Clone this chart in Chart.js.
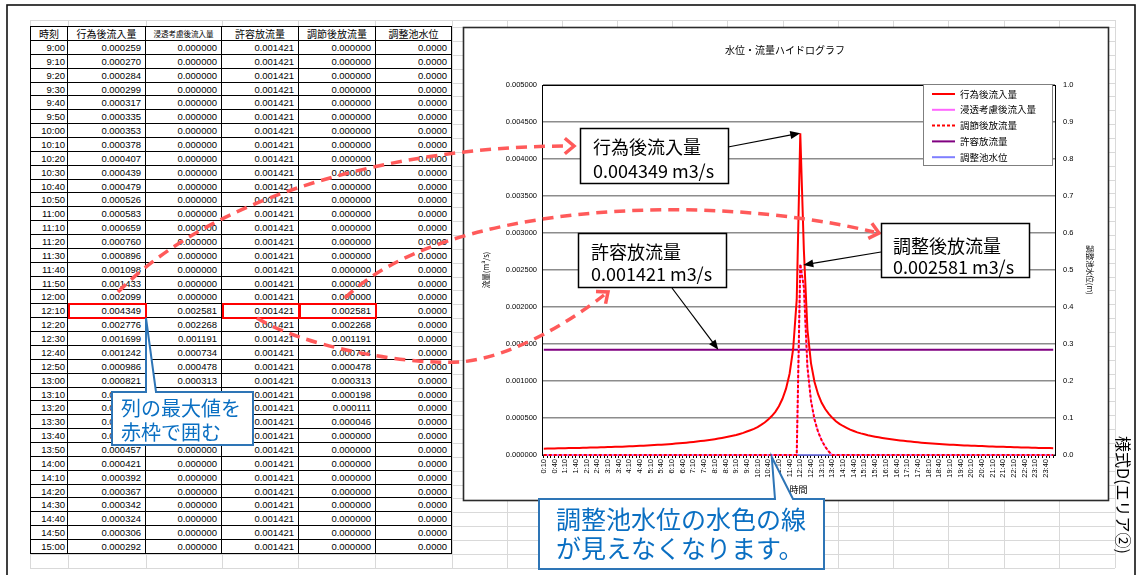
<!DOCTYPE html>
<html><head><meta charset="utf-8">
<script src="https://cdn.jsdelivr.net/npm/chart.js@4.4.1/dist/chart.umd.min.js"></script>
<style>
html,body{margin:0;padding:0;background:#fff;width:1144px;height:575px;overflow:hidden;position:relative;}
#bg{position:absolute;left:0;top:0;z-index:0}
#tbl{position:absolute;left:0;top:0;z-index:1;}
.c{position:absolute;box-sizing:border-box;border-right:1px solid #000;border-bottom:1px solid #000;text-align:right;padding-right:4px;font-family:'Liberation Sans','DejaVu Sans',sans-serif;font-size:9.5px;color:#000;white-space:nowrap;overflow:hidden;background:#fff}
.h{text-align:center;padding:0;font-family:'Noto Sans CJK JP',sans-serif;font-size:10px}
#cv{position:absolute;left:0;top:0;z-index:2}
.ann{position:absolute;z-index:3;white-space:nowrap;font-family:'Noto Sans CJK JP',sans-serif;color:#000}
.blue{color:#0a6fc2}
#side{position:absolute;z-index:3;left:1112px;top:436px;writing-mode:vertical-rl;text-orientation:sideways;font-family:'Noto Sans CJK JP',sans-serif;font-size:16px;color:#000;white-space:nowrap}
</style></head><body>
<svg id="bg" width="1144" height="575"></svg>
<div id="tbl"></div>
<canvas id="cv" width="1144" height="575"></canvas>
<div class="ann" id="t1a" style="left:593px;top:135px;font-size:18px;line-height:22px"></div>
<div class="ann" id="t1b" style="left:593px;top:159px;font-size:18px;line-height:22px"></div>
<div class="ann" id="t2a" style="left:591px;top:240px;font-size:18px;line-height:22px"></div>
<div class="ann" id="t2b" style="left:591px;top:262px;font-size:18px;line-height:22px"></div>
<div class="ann" id="t3a" style="left:893px;top:234px;font-size:18px;line-height:22px"></div>
<div class="ann" id="t3b" style="left:893px;top:255px;font-size:18px;line-height:22px"></div>
<div class="ann blue" style="left:121px;top:396px;font-size:20px;line-height:24px">列の最大値を<br>赤枠で囲む</div>
<div class="ann blue" style="left:556px;top:504px;font-size:25px;line-height:29px">調整池水位の水色の線<br>が見えなくなります。</div>
<div id="side">様式D(エリア②)</div>
<script>
// ---------- data ----------
const chartTitle = '水位・流量ハイドログラフ';
const seriesNames = ['行為後流入量','浸透考慮後流入量','調節後放流量','許容放流量','調整池水位'];
const tableHeaders = ['時刻','行為後流入量','浸透考慮後流入量','許容放流量','調節後放流量','調整池水位'];

// categories 0:10 ... 24:00 (10-minute steps)
const timeLabels = [];
for (let i = 0; i < 144; i++) { const t = (i + 1) * 10; timeLabels.push(Math.floor(t / 60) + ':' + String(t % 60).padStart(2, '0')); }

const inflow = [ // 行為後流入量 (m3/s)
 0.000086,0.000087,0.000088,0.000089,0.000090,0.000091,0.000092,0.000093,0.000094,0.000095,0.000096,0.000097,
 0.000098,0.000100,0.000101,0.000102,0.000104,0.000105,0.000107,0.000108,0.000110,0.000112,0.000113,0.000115,
 0.000117,0.000119,0.000121,0.000124,0.000126,0.000128,0.000131,0.000134,0.000137,0.000140,0.000143,0.000146,
 0.000150,0.000154,0.000158,0.000162,0.000167,0.000172,0.000177,0.000182,0.000188,0.000194,0.000200,0.000207,
 0.000214,0.000222,0.000230,0.000239,0.000249,0.000259,0.000270,0.000284,0.000299,0.000317,0.000335,0.000353,
 0.000378,0.000407,0.000439,0.000479,0.000526,0.000583,0.000659,0.000760,0.000896,0.001098,0.001433,0.002099,
 0.004349,0.002776,0.001699,0.001242,0.000986,0.000821,0.000705,0.000621,0.000555,0.000502,0.000457,0.000421,
 0.000392,0.000367,0.000342,0.000324,0.000306,0.000292,0.000280,0.000268,0.000258,0.000248,0.000239,0.000231,
 0.000223,0.000216,0.000209,0.000203,0.000197,0.000191,0.000186,0.000181,0.000176,0.000172,0.000167,0.000163,
 0.000160,0.000156,0.000153,0.000149,0.000146,0.000143,0.000140,0.000138,0.000135,0.000133,0.000130,0.000128,
 0.000126,0.000124,0.000122,0.000120,0.000118,0.000116,0.000114,0.000113,0.000111,0.000110,0.000108,0.000107,
 0.000105,0.000104,0.000102,0.000101,0.000100,0.000099,0.000097,0.000096,0.000095,0.000094,0.000093,0.000092
];
const infiltration = [ // 浸透考慮後流入量
 0,0,0,0,0,0,0,0,0,0,0,0, 0,0,0,0,0,0,0,0,0,0,0,0, 0,0,0,0,0,0,0,0,0,0,0,0,
 0,0,0,0,0,0,0,0,0,0,0,0, 0,0,0,0,0,0,0,0,0,0,0,0, 0,0,0,0,0,0,0,0,0,0,0,0,
 0.002581,0.002268,0.001191,0.000734,0.000478,0.000313,0.000198,0.000111,0.000046,
 0,0,0, 0,0,0,0,0,0,0,0,0,0,0,0, 0,0,0,0,0,0,0,0,0,0,0,0, 0,0,0,0,0,0,0,0,0,0,0,0,
 0,0,0,0,0,0,0,0,0,0,0,0, 0,0,0,0,0,0,0,0,0,0,0,0
];
const releaseAfter = [ // 調節後放流量
 0,0,0,0,0,0,0,0,0,0,0,0, 0,0,0,0,0,0,0,0,0,0,0,0, 0,0,0,0,0,0,0,0,0,0,0,0,
 0,0,0,0,0,0,0,0,0,0,0,0, 0,0,0,0,0,0,0,0,0,0,0,0, 0,0,0,0,0,0,0,0,0,0,0,0,
 0.002581,0.002268,0.001191,0.000734,0.000478,0.000313,0.000198,0.000111,0.000046,
 0,0,0, 0,0,0,0,0,0,0,0,0,0,0,0, 0,0,0,0,0,0,0,0,0,0,0,0, 0,0,0,0,0,0,0,0,0,0,0,0,
 0,0,0,0,0,0,0,0,0,0,0,0, 0,0,0,0,0,0,0,0,0,0,0,0
];
const allowedRelease = [ // 許容放流量
 0.001421,0.001421,0.001421,0.001421,0.001421,0.001421,0.001421,0.001421,0.001421,0.001421,0.001421,0.001421,
 0.001421,0.001421,0.001421,0.001421,0.001421,0.001421,0.001421,0.001421,0.001421,0.001421,0.001421,0.001421,
 0.001421,0.001421,0.001421,0.001421,0.001421,0.001421,0.001421,0.001421,0.001421,0.001421,0.001421,0.001421,
 0.001421,0.001421,0.001421,0.001421,0.001421,0.001421,0.001421,0.001421,0.001421,0.001421,0.001421,0.001421,
 0.001421,0.001421,0.001421,0.001421,0.001421,0.001421,0.001421,0.001421,0.001421,0.001421,0.001421,0.001421,
 0.001421,0.001421,0.001421,0.001421,0.001421,0.001421,0.001421,0.001421,0.001421,0.001421,0.001421,0.001421,
 0.001421,0.001421,0.001421,0.001421,0.001421,0.001421,0.001421,0.001421,0.001421,0.001421,0.001421,0.001421,
 0.001421,0.001421,0.001421,0.001421,0.001421,0.001421,0.001421,0.001421,0.001421,0.001421,0.001421,0.001421,
 0.001421,0.001421,0.001421,0.001421,0.001421,0.001421,0.001421,0.001421,0.001421,0.001421,0.001421,0.001421,
 0.001421,0.001421,0.001421,0.001421,0.001421,0.001421,0.001421,0.001421,0.001421,0.001421,0.001421,0.001421,
 0.001421,0.001421,0.001421,0.001421,0.001421,0.001421,0.001421,0.001421,0.001421,0.001421,0.001421,0.001421,
 0.001421,0.001421,0.001421,0.001421,0.001421,0.001421,0.001421,0.001421,0.001421,0.001421,0.001421,0.001421
];
const waterLevel = [ // 調整池水位 (m)
 0,0,0,0,0,0,0,0,0,0,0,0, 0,0,0,0,0,0,0,0,0,0,0,0, 0,0,0,0,0,0,0,0,0,0,0,0,
 0,0,0,0,0,0,0,0,0,0,0,0, 0,0,0,0,0,0,0,0,0,0,0,0, 0,0,0,0,0,0,0,0,0,0,0,0,
 0,0,0,0,0,0,0,0,0,0,0,0, 0,0,0,0,0,0,0,0,0,0,0,0, 0,0,0,0,0,0,0,0,0,0,0,0,
 0,0,0,0,0,0,0,0,0,0,0,0, 0,0,0,0,0,0,0,0,0,0,0,0, 0,0,0,0,0,0,0,0,0,0,0,0
];
const tableFirst = 53, tableLast = 89; // 9:00 .. 15:00

// ---------- layout constants ----------
const CJK = "'Noto Sans CJK JP','Noto Sans',sans-serif";
const LAT = "'Liberation Sans','DejaVu Sans',sans-serif";
const COLS = [31, 68, 146, 222, 299, 376, 452];
const HEAD_TOP = 27, ROW0 = 41, ROWH = 13.86;
const rowTop = k => Math.round(ROW0 + k * ROWH);

// ---------- background spreadsheet grid ----------
(function(){
  const svg = document.getElementById('bg'); let s = '';
  const vx = [30,68,146,222,298,375,452,507,562,617,672,727,783,838,893,948,1004,1059,1115];
  vx.forEach(x => s += `<line x1="${x+0.5}" y1="20" x2="${x+0.5}" y2="568" stroke="#d9d9d9" stroke-width="1"/>`);
  const hy = [20, 27]; for (let k = 0; k <= 38; k++) hy.push(rowTop(k));
  hy.forEach(y => s += `<line x1="30" y1="${y+0.5}" x2="1115" y2="${y+0.5}" stroke="#d9d9d9" stroke-width="1"/>`);
  s += `<rect x="7" y="5" width="1128" height="600" fill="none" stroke="#111" stroke-width="1.6"/>`;
  svg.innerHTML = s;
})();

// ---------- table ----------
(function(){
  const t = document.getElementById('tbl'); let h = '';
  const cell = (j, top, height, txt, cls, extra) => {
    h += `<div class="c ${cls||''}" style="left:${COLS[j]}px;top:${top}px;width:${COLS[j+1]-COLS[j]}px;height:${height}px;line-height:${height}px;${extra||''}">${txt}</div>`;
  };
  tableHeaders.forEach((hd, j) => cell(j, HEAD_TOP, ROW0 - HEAD_TOP, hd, 'h', j === 2 ? 'font-size:7.5px' : ''));
  for (let i = tableFirst; i <= tableLast; i++) {
    const k = i - tableFirst, top = rowTop(k), hgt = rowTop(k + 1) - top;
    const vals = [timeLabels[i], inflow[i].toFixed(6), infiltration[i].toFixed(6), allowedRelease[i].toFixed(6), releaseAfter[i].toFixed(6), waterLevel[i].toFixed(4)];
    vals.forEach((v, j) => cell(j, top, hgt, v, '', j === 0 ? 'padding-right:2px' : ''));
  }
  h += `<div style="position:absolute;left:${COLS[0]-1}px;top:${HEAD_TOP-1}px;width:1px;height:${rowTop(37) - HEAD_TOP + 1}px;background:#000"></div>`;
  h += `<div style="position:absolute;left:${COLS[0]-1}px;top:${HEAD_TOP-1}px;width:${COLS[6]-COLS[0]+1}px;height:1px;background:#000"></div>`;
  t.innerHTML = h;
})();

// ---------- annotation texts from data ----------
const peakIdx = inflow.indexOf(Math.max(...inflow));
document.getElementById('t1a').textContent = seriesNames[0];
document.getElementById('t1b').textContent = Math.max(...inflow).toFixed(6) + ' m3/s';
document.getElementById('t2a').textContent = '許容放流量';
document.getElementById('t2b').textContent = allowedRelease[0].toFixed(6) + ' m3/s';
document.getElementById('t3a').textContent = '調整後放流量';
document.getElementById('t3b').textContent = Math.max(...releaseAfter).toFixed(6) + ' m3/s';

// ---------- drawing helpers ----------
function arrow(ctx, x1, y1, x2, y2) {
  const a = Math.atan2(y2 - y1, x2 - x1), L = 10, W = 4;
  ctx.beginPath(); ctx.moveTo(x1, y1); ctx.lineTo(x2 - L * Math.cos(a) * 0.8, y2 - L * Math.sin(a) * 0.8); ctx.stroke();
  ctx.beginPath(); ctx.moveTo(x2, y2);
  ctx.lineTo(x2 - L * Math.cos(a) + W * Math.sin(a), y2 - L * Math.sin(a) - W * Math.cos(a));
  ctx.lineTo(x2 - L * Math.cos(a) - W * Math.sin(a), y2 - L * Math.sin(a) + W * Math.cos(a));
  ctx.closePath(); ctx.fill();
}
function chevron(ctx, x, y, a) {
  const L = 12, s = 0.7;
  ctx.beginPath();
  ctx.moveTo(x - L * Math.cos(a - s), y - L * Math.sin(a - s));
  ctx.lineTo(x, y);
  ctx.lineTo(x - L * Math.cos(a + s), y - L * Math.sin(a + s));
  ctx.stroke();
}
function callout(ctx, bx, by, bw, bh, b1, b2, tx, ty) {
  ctx.beginPath();
  ctx.moveTo(bx, by); ctx.lineTo(b1, by); ctx.lineTo(tx, ty); ctx.lineTo(b2, by);
  ctx.lineTo(bx + bw, by); ctx.lineTo(bx + bw, by + bh); ctx.lineTo(bx, by + bh); ctx.closePath();
  ctx.fillStyle = '#fff'; ctx.fill();
  ctx.strokeStyle = '#2e75b6'; ctx.lineWidth = 2; ctx.stroke();
}

const overlay = {
  id: 'overlay',
  beforeDraw(c) {
    const ctx = c.ctx; ctx.save();
    ctx.fillStyle = '#fff'; ctx.fillRect(463, 27, 645, 473);
    ctx.strokeStyle = '#2b2b2b'; ctx.lineWidth = 1.6; ctx.strokeRect(463.5, 27.5, 645, 473);
    ctx.restore();
  },
  beforeDatasetsDraw(c) {
    const ctx = c.ctx, a = c.chartArea; ctx.save();
    ctx.strokeStyle = '#000'; ctx.lineWidth = 1; ctx.strokeRect(a.left + 0.5, a.top + 0.5, a.right - a.left, a.bottom - a.top);
    ctx.restore();
  },
  afterDraw(c) {
    const ctx = c.ctx, xs = c.scales.x, ys = c.scales.y; ctx.save();
    // legend
    ctx.fillStyle = '#fff'; ctx.fillRect(923, 84, 129, 81);
    ctx.strokeStyle = '#7f7f7f'; ctx.lineWidth = 1; ctx.strokeRect(923.5, 84.5, 129, 81);
    c.data.datasets.forEach((d, i) => {
      const y = 94 + i * 15.8;
      ctx.beginPath(); ctx.setLineDash(d.borderDash || []); ctx.strokeStyle = d.borderColor; ctx.lineWidth = 2;
      ctx.moveTo(932, y); ctx.lineTo(955, y); ctx.stroke(); ctx.setLineDash([]);
      ctx.fillStyle = '#000'; ctx.font = '9.5px ' + CJK; ctx.textBaseline = 'middle'; ctx.textAlign = 'left';
      ctx.fillText(d.label, 960, y);
    });
    // red frames around column maxima (row of the peak)
    const rk = peakIdx - tableFirst, rt = rowTop(rk), rh = rowTop(rk + 1) - rt;
    ctx.strokeStyle = '#ff0000'; ctx.lineWidth = 2;
    [1, 3, 4].forEach(j => ctx.strokeRect(COLS[j] + 1, rt, COLS[j + 1] - COLS[j] - 1, rh));
    // red dashed curved arrows
    ctx.strokeStyle = '#ff5a5a'; ctx.lineWidth = 3.5; ctx.setLineDash([11, 7]);
    ctx.beginPath(); ctx.moveTo(118, 292); ctx.bezierCurveTo(230, 180, 430, 146, 568, 146); ctx.stroke();
    ctx.beginPath(); ctx.moveTo(345, 298); ctx.bezierCurveTo(440, 205, 700, 190, 874, 232); ctx.stroke();
    ctx.beginPath(); ctx.moveTo(257, 318); ctx.bezierCurveTo(300, 345, 400, 365, 460, 362); ctx.bezierCurveTo(510, 358, 570, 322, 604, 295); ctx.stroke();
    ctx.setLineDash([]);
    chevron(ctx, 574, 146, 0);
    chevron(ctx, 879, 233, Math.atan2(42, 174));
    chevron(ctx, 608, 292, Math.atan2(-30, 38));
    // black label boxes
    const box = (x, y, w, h) => { ctx.fillStyle = '#fff'; ctx.fillRect(x, y, w, h); ctx.strokeStyle = '#000'; ctx.lineWidth = 1.5; ctx.strokeRect(x + 0.5, y + 0.5, w, h); };
    box(580, 128, 148, 55); box(578, 233, 148, 54); box(881, 223, 148, 54);
    // black arrows to the data
    ctx.strokeStyle = '#000'; ctx.fillStyle = '#000'; ctx.lineWidth = 1.2;
    arrow(ctx, 728, 147, xs.getPixelForValue(peakIdx), ys.getPixelForValue(inflow[peakIdx]));
    arrow(ctx, 672, 288, xs.getPixelForValue(49), ys.getPixelForValue(allowedRelease[49]));
    arrow(ctx, 881, 252, xs.getPixelForValue(peakIdx) + 3, ys.getPixelForValue(releaseAfter[peakIdx]) + 1);
    // blue callouts
    callout(ctx, 112, 392, 141, 53, 146, 156, 146, rt + rh);
    callout(ctx, 539, 499, 285, 70, 775, 793, xs.getPixelForValue(64), ys.getPixelForValue(0) + 2);
    ctx.restore();
  }
};

new Chart(document.getElementById('cv'), {
  type: 'line',
  data: {
    labels: timeLabels,
    datasets: [
      { label: seriesNames[0], data: inflow, borderColor: '#ff0000', borderWidth: 2, order: 1, yAxisID: 'y' },
      { label: seriesNames[1], data: infiltration, borderColor: '#ff66ff', borderWidth: 1.5, order: 3, yAxisID: 'y' },
      { label: seriesNames[2], data: releaseAfter, borderColor: '#ff0000', borderWidth: 2, borderDash: [3, 2], order: 2, yAxisID: 'y' },
      { label: seriesNames[3], data: allowedRelease, borderColor: '#800080', borderWidth: 2, order: 4, yAxisID: 'y' },
      { label: seriesNames[4], data: waterLevel, borderColor: '#7f7fff', borderWidth: 1.5, order: 5, yAxisID: 'y1' }
    ]
  },
  options: {
    responsive: false, animation: false, devicePixelRatio: 1,
    elements: { point: { radius: 0 }, line: { tension: 0, fill: false } },
    datasets: { line: { clip: false } },
    layout: { padding: { left: 470, right: 44, top: 38, bottom: 76 } },
    plugins: {
      legend: { display: false }, tooltip: { enabled: false },
      title: { display: true, text: chartTitle, color: '#000', font: { family: CJK, size: 10, weight: 'normal' }, padding: { top: 6, bottom: 29 } }
    },
    scales: {
      x: {
        type: 'category', offset: true,
        grid: { drawOnChartArea: false, color: '#000', tickLength: 3 },
        border: { color: '#000', width: 1 },
        ticks: { autoSkip: false, maxRotation: 90, minRotation: 90, padding: 1, color: '#000', font: { family: LAT, size: 7.5 },
                 callback: (v, i) => (i % 3 === 0 ? timeLabels[i] : '') },
        title: { display: true, text: '時間', color: '#000', font: { family: CJK, size: 9 }, padding: { top: 0, bottom: 4 } },
        afterFit: s => { s.height = 44; }
      },
      y: {
        position: 'left', min: 0, max: 0.005,
        ticks: { stepSize: 0.0005, padding: 5, color: '#000', font: { family: LAT, size: 7.5 }, callback: v => Number(v).toFixed(6) },
        grid: { color: '#8c8c8c', lineWidth: 1.6, drawTicks: false },
        border: { color: '#000', width: 1 },
        title: { display: true, text: '流量(m³/s)', color: '#000', font: { family: CJK, size: 7.5 }, padding: { top: 11.5, bottom: 0 } },
        afterFit: s => { s.width = 72; }
      },
      y1: {
        position: 'right', min: 0, max: 1,
        ticks: { stepSize: 0.1, padding: 8, color: '#000', font: { family: LAT, size: 7.5 }, callback: v => Number(v).toFixed(1) },
        grid: { drawOnChartArea: false, drawTicks: false },
        border: { color: '#000', width: 1 },
        title: { display: true, text: '調整池水位(m)', color: '#000', font: { family: CJK, size: 7.5 }, padding: { top: 5.5, bottom: 0 } },
        afterFit: s => { s.width = 45; }
      }
    }
  },
  plugins: [overlay]
});
</script>
</body></html>
